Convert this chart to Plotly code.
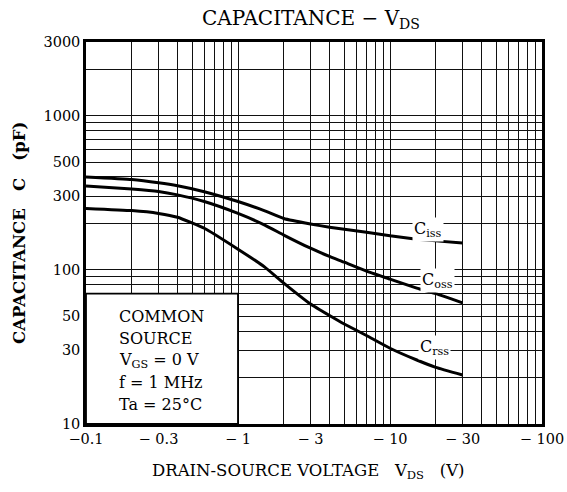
import numpy as np
import plotly.graph_objects as go

# ---- data ----
vds = [0.1, 0.2, 0.3, 0.4, 0.6, 1, 1.5, 2, 3, 4, 5, 7, 10, 15, 20, 30]
ciss = [400, 385, 367, 351, 321, 277, 241, 215, 198, 189, 183, 175, 166, 158, 154, 149]
coss = [349, 334, 322, 306, 277, 232, 195, 168, 138, 122, 112, 98, 87, 76, 70, 61]
crss = [250, 242, 232, 219, 186, 136, 104, 82, 60, 50.5, 44.5, 37.5, 31, 26, 23.3, 20.8]

x_tickvals = [0.1, 0.3, 1, 3, 10, 30, 100]
x_ticktext = ["\u22120.1", "\u2212 0.3", "\u2212 1", "\u2212 3", "\u2212 10", "\u2212 30", "\u2212 100"]
y_tickvals = [10, 30, 50, 100, 300, 500, 1000, 3000]
y_ticktext = ["10", "30", "50", "100", "300", "500", "1000", "3000"]

x_grid = [k * 10.0 ** e for e in (-1, 0, 1) for k in range(1, 10)] + [100]
y_grid = [k * 10.0 ** e for e in (1, 2, 3) for k in range(1, 10) if k * 10.0 ** e <= 3000]

FONT = "DejaVu Serif"

fig = go.Figure()
for name, vals in (("Ciss", ciss), ("Coss", coss), ("Crss", crss)):
    fig.add_trace(go.Scatter(x=vds, y=vals, mode="lines", name=name,
                             line=dict(color="black", width=3, shape="spline", smoothing=0.4),
                             showlegend=False, hoverinfo="skip"))

fig.update_layout(
    width=567, height=492,
    margin=dict(l=86, r=25, t=42, b=68, autoexpand=False),
    paper_bgcolor="white", plot_bgcolor="white",
    font=dict(family=FONT, color="black", size=14),
    title=dict(text="CAPACITANCE \u2212 V<sub>DS</sub>", x=(311 - 86) / 456, xref="paper",
               y=1 - 18 / 492, yref="container", yanchor="middle",
               font=dict(family=FONT, size=20, color="black")),
)

fig.update_xaxes(type="log", range=[-1, 2], tickmode="array", automargin=False,
                 tickvals=x_tickvals, ticktext=x_ticktext,
                 showgrid=True, gridcolor="#111", gridwidth=1.4,
                 minor=dict(tickmode="array", tickvals=x_grid, showgrid=True,
                            gridcolor="#111", gridwidth=1.4, ticks=""),
                 showline=True, linecolor="black", linewidth=2.5, mirror=True,
                 ticks="", tickfont=dict(size=14.5), zeroline=False)
fig.update_yaxes(type="log", range=[1, np.log10(3000)], tickmode="array", automargin=False,
                 tickvals=y_tickvals, ticktext=y_ticktext,
                 showgrid=True, gridcolor="#111", gridwidth=1.4,
                 minor=dict(tickmode="array", tickvals=y_grid, showgrid=True,
                            gridcolor="#111", gridwidth=1.4, ticks=""),
                 showline=True, linecolor="black", linewidth=2.5, mirror=True,
                 ticks="", tickfont=dict(size=14.5), zeroline=False)

# white condition box in lower-left corner (0.1..1 V, 10..70 pF)
fig.add_shape(type="rect", xref="paper", yref="paper", x0=0, x1=1 / 3,
              y0=0, y1=np.log10(7) / np.log10(300),
              fillcolor="white", line=dict(color="black", width=1.8), layer="above")

box_lines = ["COMMON", "SOURCE", "V<sub>GS</sub> = 0 V", "f = 1 MHz", "Ta = 25\u00b0C"]
box_y = [316, 338, 360, 382, 404]
for txt, yy in zip(box_lines, box_y):
    fig.add_annotation(text=txt, xref="paper", yref="paper", x=(117 - 86) / 456,
                       y=(424 - yy) / 382, xanchor="left", yanchor="middle",
                       showarrow=False, font=dict(family=FONT, size=16, color="black"))

# curve labels
labels = [("C<sub>iss</sub>", 428, 229), ("C<sub>oss</sub>", 437, 280), ("C<sub>rss</sub>", 434, 347)]
for txt, px, py in labels:
    fig.add_annotation(text=txt, xref="paper", yref="paper", x=(px - 86) / 456,
                       y=(424 - py) / 382, xanchor="center", yanchor="middle",
                       showarrow=False, bgcolor="white", borderpad=1,
                       font=dict(family=FONT, size=16, color="black"))

# axis titles
fig.add_annotation(text="DRAIN-SOURCE VOLTAGE\u00a0\u00a0\u00a0V<sub>DS</sub>\u00a0\u00a0\u00a0(V)",
                   xref="paper", yref="paper", x=(308 - 86) / 456, y=(424 - 472) / 382,
                   xanchor="center", yanchor="middle", showarrow=False,
                   font=dict(family=FONT, size=16.5, color="black"))
fig.add_annotation(text="<b>CAPACITANCE\u00a0\u00a0\u00a0C\u00a0\u00a0\u00a0(pF)</b>",
                   xref="paper", yref="paper", x=(19 - 86) / 456, y=(424 - 233) / 382,
                   xanchor="center", yanchor="middle", textangle=-90, showarrow=False,
                   font=dict(family=FONT, size=16.5, color="black"))

fig.write_html("out.html", config={"displayModeBar": False},
               post_script="document.body.style.margin='0';document.body.style.padding='0';")
